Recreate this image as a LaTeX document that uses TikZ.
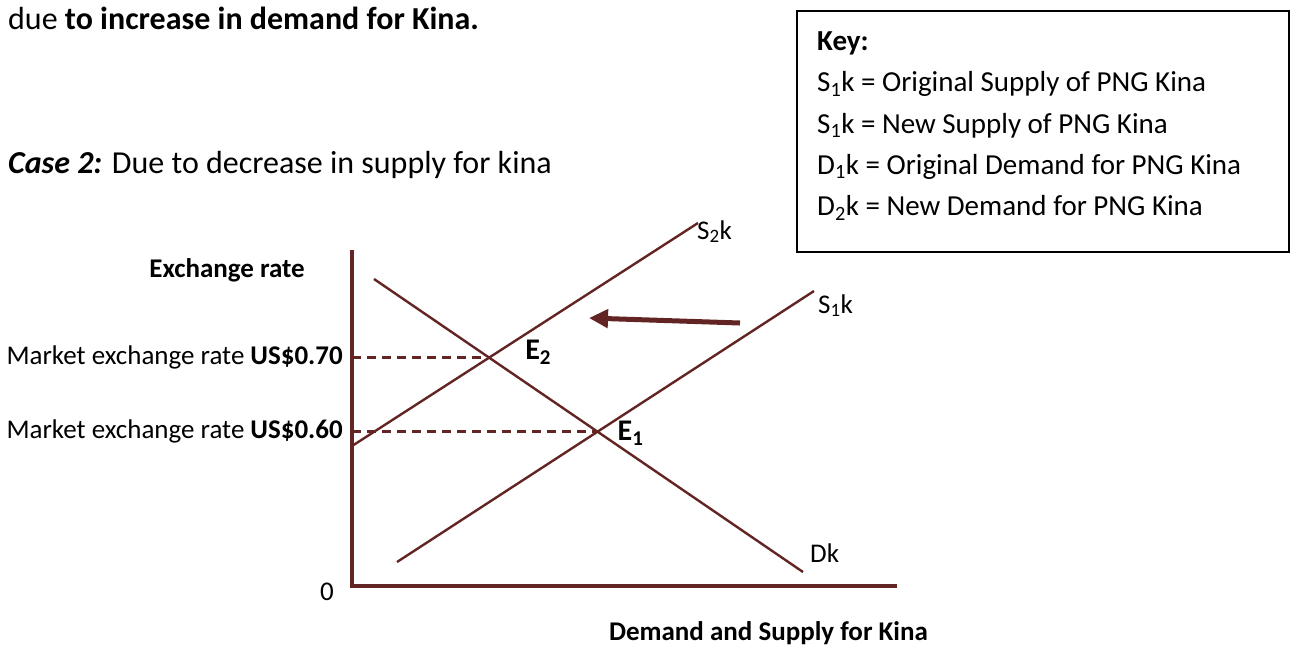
\documentclass[tikz,border=0pt]{standalone}
\usepackage{fontspec}
\setmainfont{Carlito}
\usepackage{tikz}
\usetikzlibrary{positioning, arrows.meta}
\definecolor{maroon}{RGB}{99,37,35}

\begin{document}
\begin{tikzpicture}
    [x=1pt, y=-1pt,
    heading/.style={font=\fontsize{32}{38}\selectfont, inner sep=0pt},
    smalltext/.style={font=\fontsize{27}{33}\selectfont, inner sep=0pt},
    pointtext/.style={font=\fontsize{30}{36}\selectfont\bfseries, inner sep=0pt},
    keytext/.style={font=\fontsize{29}{35}\selectfont, inner xsep=0pt, inner ysep=8pt, text height=19pt, text depth=6pt, anchor=north west},
    keybox/.style={rectangle, draw=black, line width=1.5pt, minimum width=492pt, minimum height=241pt, anchor=north west},
    axisline/.style={draw=maroon, line width=3.2pt},
    curve/.style={draw=maroon, line width=2.4pt},
    guideline/.style={draw=maroon, line width=2.4pt, dash pattern=on 9pt off 6pt},
    shiftarrow/.style={draw=maroon, line width=5pt, -{Triangle[length=19pt, width=18pt]}},]

    \useasboundingbox (0,0) rectangle (1292,646);

    %Text
    \node[heading, anchor=base west] (intro) at (8,29) {due \textbf{to increase in demand for Kina.}};
    \node[heading, anchor=base west] (case) at (8,173) {\textbf{\textit{Case 2:}} Due to decrease in supply for kina};

    %Key
    \node[keybox] (key) at (796,10) {};
    \node[below right=13pt and 21pt of key.north west, keytext] (k0) {\textbf{Key:}};
    \node[below=0pt of k0.south west, keytext] (k1) {S\textsubscript{1}k = Original Supply of PNG Kina};
    \node[below=0pt of k1.south west, keytext] (k2) {S\textsubscript{1}k = New Supply of PNG Kina};
    \node[below=0pt of k2.south west, keytext] (k3) {D\textsubscript{1}k = Original Demand for PNG Kina};
    \node[below=0pt of k3.south west, keytext] (k4) {D\textsubscript{2}k = New Demand for PNG Kina};

    %Axes
    \coordinate (O) at (352,586);
    \coordinate (ytop) at (352,250);
    \coordinate (xend) at (897,586);
    \draw[axisline] (ytop) -- (O) -- (xend);

    %Curves
    \coordinate (d1) at (374,279);
    \coordinate (d2) at (803,572);
    \coordinate (s1a) at (397,562);
    \coordinate (s1b) at (814,291);
    \coordinate (s2a) at (352,446);
    \coordinate (s2b) at (698,223);
    \coordinate (E1) at (intersection of d1--d2 and s1a--s1b);
    \coordinate (E2) at (intersection of d1--d2 and s2a--s2b);
    \coordinate (y60) at (O |- E1);
    \coordinate (y70) at (O |- E2);

    \draw[guideline] (y70) -- (E2);
    \draw[guideline] (y60) -- (E1);
    \draw[curve] (d1) -- (d2);
    \draw[curve] (s1a) -- (s1b);
    \draw[curve] (s2a) -- (s2b);

    %Shift
    \coordinate (atail) at (740,323);
    \coordinate (ahead) at (589,318);
    \draw[shiftarrow] (atail) -- (ahead);

    %Labels
    \node[smalltext, anchor=base east] (ylab) at ([shift={(-47pt,-27pt)}]ytop) {\textbf{Exchange rate}};
    \node[smalltext, anchor=base east] (xlab) at ([shift={(31pt,-54pt)}]xend) {\textbf{Demand and Supply for Kina}};
    \node[smalltext, anchor=base east] (zero) at ([shift={(-18pt,-14pt)}]O) {0};
    \node[smalltext, left=9pt of y70] (p70) {Market exchange rate \textbf{US\$0.70}};
    \node[smalltext, left=9pt of y60] (p60) {Market exchange rate \textbf{US\$0.60}};
    \node[pointtext, above right=-7pt and 36pt of E2] (e2lab) {E\textsubscript{2}};
    \node[pointtext, above right=-14pt and 20pt of E1] (e1lab) {E\textsubscript{1}};
    \node[smalltext, anchor=base west] (s2lab) at ([shift={(-1pt,-16pt)}]s2b) {S\textsubscript{2}k};
    \node[smalltext, anchor=base west] (s1lab) at ([shift={(4pt,-22pt)}]s1b) {S\textsubscript{1}k};
    \node[smalltext, anchor=base west] (dlab) at ([shift={(7pt,10pt)}]d2) {Dk};
\end{tikzpicture}
\end{document}
